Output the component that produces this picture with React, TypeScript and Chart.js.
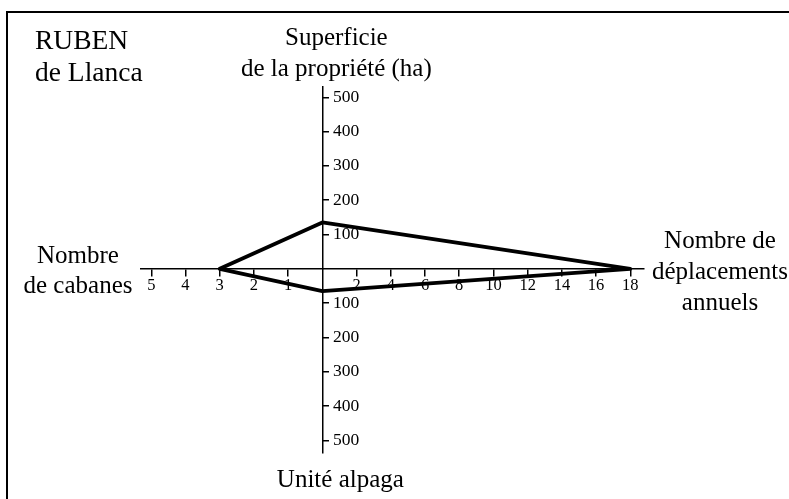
import React, { useEffect, useRef } from 'react';
import { Chart, registerables } from 'chart.js';

Chart.register(...registerables);

// ---- texts ----
const chartTitle = ['RUBEN', 'de Llanca'];
const topAxisTitle = ['Superficie', 'de la propriété (ha)'];
const rightAxisTitle = ['Nombre de', 'déplacements', 'annuels'];
const bottomAxisTitle = ['Unité alpaga'];
const leftAxisTitle = ['Nombre', 'de cabanes'];

// ---- tick labels of the four half-axes ----
const superficieTicks = [100, 200, 300, 400, 500]; // up
const deplacementsTicks = [2, 4, 6, 8, 10, 12, 14, 16, 18]; // right
const alpagaTicks = [100, 200, 300, 400, 500]; // down
const cabanesTicks = [1, 2, 3, 4, 5]; // left

// ---- values (Ruben de Llanca) ----
const superficie = 135;
const deplacements = 18;
const alpaga = 65;
const cabanes = 3;

// one cabane is drawn as wide as two "déplacements" units on the shared x scale
const CABANE_UNIT = 2;
const FONT = '"Liberation Serif", "Times New Roman", serif';

const xTickValues = [...cabanesTicks.map((v) => -v * CABANE_UNIT), ...deplacementsTicks];
const yTickValues = [...alpagaTicks.map((v) => -v), ...superficieTicks];

const polygon = [
  { x: 0, y: superficie },
  { x: deplacements, y: 0 },
  { x: 0, y: -alpaga },
  { x: -cabanes * CABANE_UNIT, y: 0 },
  { x: 0, y: superficie },
];

const textPlugin = {
  id: 'diagramText',
  afterDraw(chart: any) {
    const { ctx, chartArea, scales } = chart;
    const ox = scales.x.getPixelForValue(0);
    const oy = scales.y.getPixelForValue(0);
    ctx.save();
    ctx.fillStyle = '#000';
    ctx.textBaseline = 'alphabetic';
    ctx.font = `27.5px ${FONT}`;
    ctx.textAlign = 'left';
    chartTitle.forEach((t, i) => ctx.fillText(t, 35, 49 + i * 32));
    ctx.font = `25px ${FONT}`;
    ctx.textAlign = 'center';
    topAxisTitle.forEach((t, i) => ctx.fillText(t, ox + 14, chartArea.top - 42 + i * 31));
    leftAxisTitle.forEach((t, i) => ctx.fillText(t, chartArea.left - 63, oy - 6 + i * 30.5));
    rightAxisTitle.forEach((t, i) => ctx.fillText(t, chartArea.right + 76, oy - 20.5 + i * 31));
    bottomAxisTitle.forEach((t, i) => ctx.fillText(t, ox + 18, chartArea.bottom + 34 + i * 31));
    ctx.restore();
  },
};

const xTickFont = { family: FONT, size: 16.5, lineHeight: 1.2 };
const yTickFont = { family: FONT, size: 17.5, lineHeight: 1.2 };

export default function App() {
  const ref = useRef<HTMLCanvasElement>(null);

  useEffect(() => {
    const chart = new Chart(ref.current as HTMLCanvasElement, {
      type: 'scatter',
      data: {
        datasets: [
          {
            data: polygon,
            showLine: true,
            borderColor: '#000',
            backgroundColor: '#000',
            borderWidth: 3.8,
            pointRadius: 0,
            pointHoverRadius: 0,
            fill: false,
            tension: 0,
            borderJoinStyle: 'round',
            borderCapStyle: 'round',
            clip: false,
          } as any,
        ],
      },
      options: {
        responsive: false,
        animation: false,
        events: [],
        layout: { padding: { left: 141, right: 145, top: 87, bottom: 46 } },
        plugins: {
          legend: { display: false },
          tooltip: { enabled: false },
          title: { display: false },
        },
        scales: {
          x: {
            type: 'linear',
            position: { y: 0 } as any,
            min: -10.6,
            max: 18.8,
            afterBuildTicks: (s: any) => {
              s.ticks = xTickValues.map((value) => ({ value }));
            },
            ticks: {
              autoSkip: false,
              maxRotation: 0,
              padding: 0,
              color: '#000',
              font: xTickFont,
              callback: (v: any) => (v < 0 ? String(-v / CABANE_UNIT) : String(v)),
            },
            grid: {
              display: true,
              drawOnChartArea: false,
              drawTicks: true,
              tickLength: 7,
              color: '#000',
              lineWidth: 1.5,
            },
            border: { display: true, color: '#000', width: 1.5 },
          },
          y: {
            type: 'linear',
            position: { x: 0 } as any,
            min: -537,
            max: 530,
            afterBuildTicks: (s: any) => {
              s.ticks = yTickValues.map((value) => ({ value }));
            },
            ticks: { display: false, autoSkip: false },
            grid: {
              display: true,
              drawOnChartArea: false,
              drawTicks: true,
              tickLength: -7,
              color: '#000',
              lineWidth: 1.5,
            },
            border: { display: true, color: '#000', width: 1.5 },
          },
          yLabels: {
            type: 'linear',
            axis: 'y',
            position: { x: 2.15 } as any,
            min: -537,
            max: 530,
            afterBuildTicks: (s: any) => {
              s.ticks = yTickValues.map((value) => ({ value }));
            },
            ticks: {
              autoSkip: false,
              color: '#000',
              font: yTickFont,
              callback: (v: any) => String(Math.abs(v)),
            },
            grid: { display: false },
            border: { display: false },
          } as any,
        },
      },
      plugins: [textPlugin],
    });
    return () => chart.destroy();
  }, []);

  return (
    <div
      style={{
        position: 'fixed',
        left: 0,
        top: 0,
        width: 789,
        height: 499,
        overflow: 'hidden',
        background: '#fff',
      }}
    >
      <div
        style={{
          position: 'absolute',
          left: 6,
          top: 11,
          width: 900,
          height: 600,
          border: '2px solid #000',
        }}
      />
      <canvas
        ref={ref}
        width={789}
        height={499}
        style={{ position: 'absolute', left: 0, top: 0, width: 789, height: 499 }}
      />
    </div>
  );
}
